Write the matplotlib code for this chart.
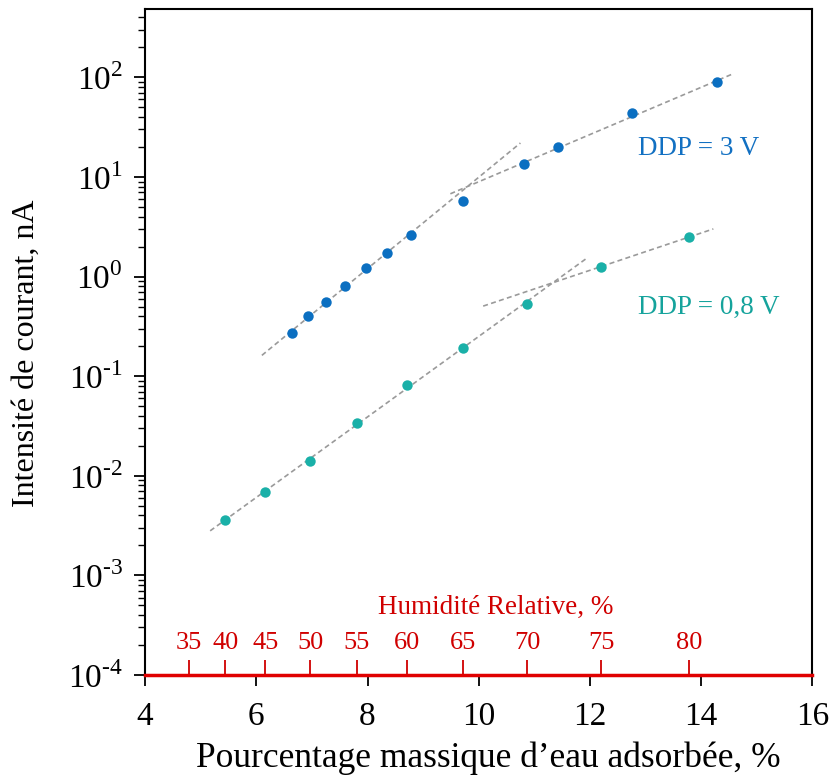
import numpy as np
import matplotlib.pyplot as plt

plt.rcParams['font.family'] = ['Liberation Serif', 'DejaVu Serif']
plt.rcParams['mathtext.fontset'] = 'custom'
plt.rcParams['mathtext.rm'] = 'Liberation Serif'

# DDP = 3 V
x_3v = [6.65, 6.93, 7.26, 7.60, 7.98, 8.35, 8.79, 9.72, 10.82, 11.43, 12.76, 14.29]
i_3v = [0.27, 0.40, 0.56, 0.81, 1.23, 1.74, 2.64, 5.7, 13.4, 19.8, 43.5, 89.0]

# DDP = 0,8 V
x_08v = [5.44, 6.16, 6.97, 7.81, 8.71, 9.72, 10.87, 12.20, 13.79]
i_08v = [0.0036, 0.0069, 0.0142, 0.034, 0.082, 0.193, 0.536, 1.26, 2.5]

# humidity scale: position on the mass axis and the RH value
hr_pos = [4.79, 5.44, 6.16, 6.97, 7.81, 8.71, 9.72, 10.87, 12.20, 13.79]
hr_vals = [35, 40, 45, 50, 55, 60, 65, 70, 75, 80]

# linear fits in log scale: (points used, x range drawn)
fits_3v = [(slice(0, 7), (6.10, 10.75)), (slice(8, 12), (9.49, 14.56))]
fits_08v = [(slice(0, 7), (5.17, 11.95)), (slice(7, 9), (10.08, 14.22))]

blue = '#0B6FC1'
teal = '#1AB0A8'
red = '#D00000'

fig = plt.figure(figsize=(8.34, 7.84), dpi=100)
ax = fig.add_axes([0.174, 0.139, 0.800, 0.850])


def draw_fits(x, y, fits):
    x = np.asarray(x)
    ly = np.log10(y)
    for sl, (x0, x1) in fits:
        p = np.polyfit(x[sl], ly[sl], 1)
        xs = np.array([x0, x1])
        ax.plot(xs, 10 ** np.polyval(p, xs), color='#9A9A9A', lw=1.2,
                dashes=(3, 2), zorder=2)


draw_fits(x_3v, i_3v, fits_3v)
draw_fits(x_08v, i_08v, fits_08v)

ax.plot(x_3v, i_3v, 'o', color=blue, ms=7.5, mec='none', zorder=3)
ax.plot(x_08v, i_08v, 'o', color=teal, ms=7.5, mec='none', zorder=3)

ax.text(12.87, 19.5, 'DDP = 3 V', color='#1270C2', fontsize=19.5, ha='left', va='center')
ax.text(12.87, 0.49, 'DDP = 0,8 V', color='#15A39C', fontsize=19.5, ha='left', va='center')

ax.set_yscale('log')
ax.set_xlim(4, 16)
ax.set_ylim(1e-4, 10 ** 2.69)
ax.set_xticks([4, 6, 8, 10, 12, 14, 16])
ax.set_yticks([10.0 ** k for k in range(-4, 3)])
ax.set_yticklabels([f'$10^{{\\text{{{k}}}}}$' for k in range(-4, 3)])
ax.tick_params(axis='both', direction='out', labelsize=24, width=1.3, length=8, colors='black')
ax.tick_params(axis='y', which='minor', direction='out', length=5, width=1)
ax.tick_params(axis='y', pad=8)
ax.tick_params(axis='x', pad=11)

ax.set_xlabel('Pourcentage massique d\u2019eau adsorbée, %', fontsize=25.5)
ax.set_ylabel('Intensité de courant, nA', fontsize=23)
ax.xaxis.set_label_coords(0.514, -0.100)
ax.yaxis.set_label_coords(-0.156, 0.483)

for s in ['left', 'top', 'right']:
    ax.spines[s].set_linewidth(1.5)
ax.spines['bottom'].set_color('#E00000')
ax.spines['bottom'].set_linewidth(2.5)
ax.spines['bottom'].set_zorder(5)

# relative humidity scale drawn inside the plot along the bottom
hr_ax = ax.secondary_xaxis('bottom')
hr_ax.set_xticks(hr_pos)
hr_ax.set_xticklabels([str(v) for v in hr_vals])
hr_ax.tick_params(direction='in', length=11, width=1.3, colors=red,
                  labelcolor=red, labelsize=19, pad=-31)
hr_ax.spines['bottom'].set_visible(False)
ax.text(0.525, 0.102, 'Humidité Relative, %', transform=ax.transAxes,
        color=red, fontsize=19.5, ha='center', va='center')

fig.savefig('out.png', dpi=100)
